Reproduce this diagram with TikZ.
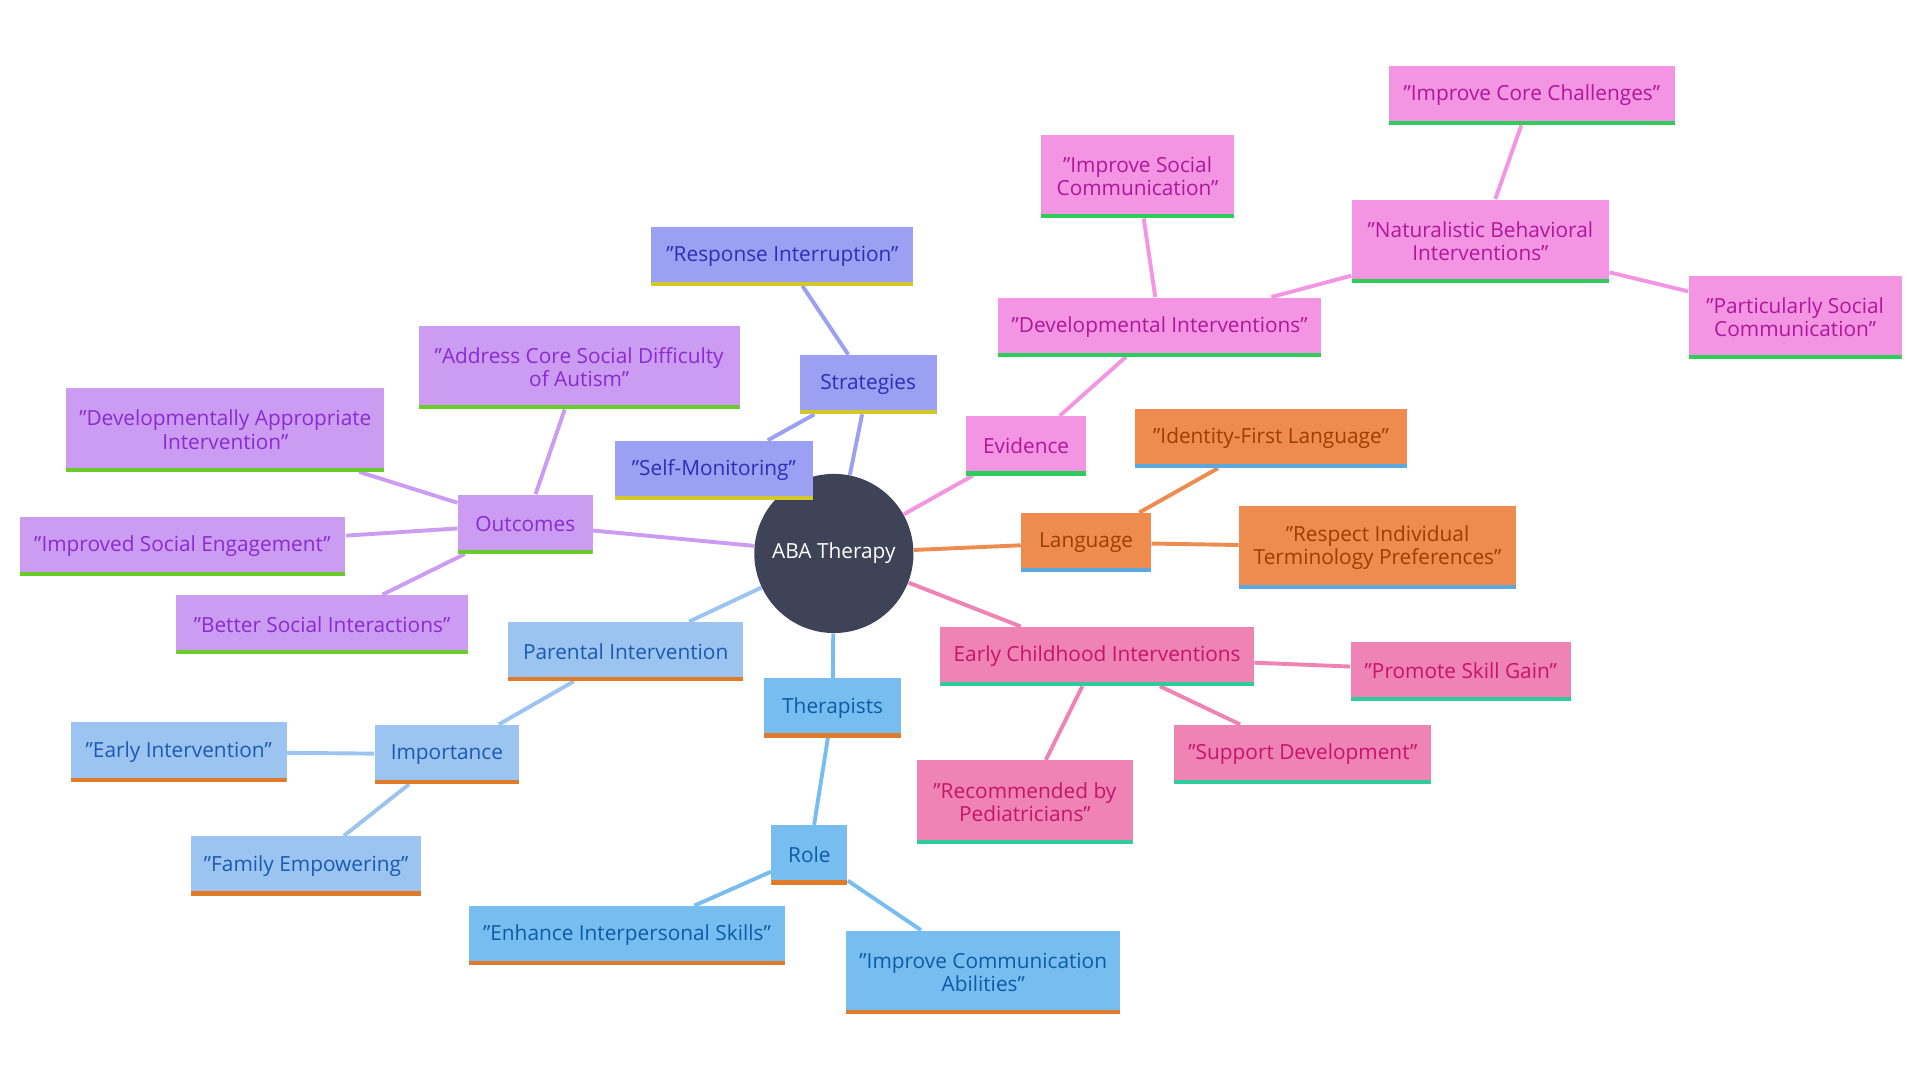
\documentclass[tikz,border=0pt]{standalone}
\usepackage{fontspec}
\setmainfont{Open Sans}
\usetikzlibrary{backgrounds}
\definecolor{cdark}{HTML}{3F4358}
\definecolor{sF}{HTML}{9BA0F2}\definecolor{sT}{HTML}{2A2FB5}\definecolor{sB}{HTML}{D4C72A}
\definecolor{eF}{HTML}{F495E4}\definecolor{eT}{HTML}{B0169A}\definecolor{eB}{HTML}{2ECC5A}
\definecolor{lF}{HTML}{EE8B4F}\definecolor{lT}{HTML}{9A3F00}\definecolor{lB}{HTML}{5AA8E0}
\definecolor{cF}{HTML}{EE83B4}\definecolor{cT}{HTML}{C7146A}\definecolor{cB}{HTML}{2ECC9A}
\definecolor{tF}{HTML}{78BDF0}\definecolor{tT}{HTML}{0C5BA8}\definecolor{tB}{HTML}{E07B2A}
\definecolor{pF}{HTML}{9CC4F0}\definecolor{pT}{HTML}{1A5BB0}
\definecolor{oF}{HTML}{CC9CF2}\definecolor{oT}{HTML}{8A2BD0}\definecolor{oB}{HTML}{6ACC2A}
\tikzset{
 bx/.style n args={3}{rectangle, inner sep=2pt, align=center, fill=#1, text=#2,
   font=\fontsize{8.5}{9.6}\selectfont,
   path picture={\draw[line width=3pt,#3] (path picture bounding box.south west)--(path picture bounding box.south east);}},
 sbx/.style={bx={sF}{sT}{sB}}, ebx/.style={bx={eF}{eT}{eB}}, lbx/.style={bx={lF}{lT}{lB}},
 cbx/.style={bx={cF}{cT}{cB}}, tbx/.style={bx={tF}{tT}{tB}}, pbx/.style={bx={pF}{pT}{tB}},
 obx/.style={bx={oF}{oT}{oB}},
 h1/.style={minimum height=24pt}, h2/.style={minimum height=34pt},
 ln/.style={line width=1.6pt}
}
\begin{document}
\begin{tikzpicture}[x=0.5pt,y=-0.5pt]
\useasboundingbox (0,0) rectangle (1568,882);
\node[circle,fill=cdark,text=white,minimum size=65pt,font=\fontsize{8.5}{10}\selectfont] (c) at (681,452) {ABA Therapy};
% Strategies
\node[sbx,h1,minimum width=56pt] (s) at (709,314) {Strategies};
\node[sbx,h1,minimum width=107pt] (s1) at (639,209) {"Response Interruption"};
\node[sbx,h1,minimum width=81pt] (s2) at (583,384) {"Self-Monitoring"};
% Evidence
\node[ebx,h1,minimum width=49pt] (e) at (838,364) {Evidence};
\node[ebx,h1,minimum width=132pt] (e1) at (947,267) {"Developmental Interventions"};
\node[ebx,h2,minimum width=79pt] (e2) at (929,144) {"Improve Social\\Communication"};
\node[ebx,h2,minimum width=105pt] (e3) at (1209,197) {"Naturalistic Behavioral\\Interventions"};
\node[ebx,h1,minimum width=117pt] (e4) at (1251,78) {"Improve Core Challenges"};
\node[ebx,h2,minimum width=87pt] (e5) at (1466,259) {"Particularly Social\\Communication"};
% Language
\node[lbx,h1,minimum width=53pt] (l) at (887,443) {Language};
\node[lbx,h1,minimum width=111pt] (l1) at (1038,358) {"Identity-First Language"};
\node[lbx,h2,minimum width=113pt] (l2) at (1125,447) {"Respect Individual\\Terminology Preferences"};
% Early childhood
\node[cbx,h1,minimum width=128pt] (k) at (896,536) {Early Childhood Interventions};
\node[cbx,h1,minimum width=90pt] (k1) at (1193,548) {"Promote Skill Gain"};
\node[cbx,h1,minimum width=105pt] (k2) at (1064,616) {"Support Development"};
\node[cbx,h2,minimum width=88pt] (k3) at (837,655) {"Recommended by\\Pediatricians"};
% Therapists
\node[tbx,h1,minimum width=56pt] (t) at (680,578) {Therapists};
\node[tbx,h1,minimum width=31pt] (t1) at (661,698) {Role};
\node[tbx,h1,minimum width=129pt] (t2) at (512,764) {"Enhance Interpersonal Skills"};
\node[tbx,h2,minimum width=112pt] (t3) at (803,794) {"Improve Communication\\Abilities"};
% Parental
\node[pbx,h1,minimum width=96pt] (p) at (511,532) {Parental Intervention};
\node[pbx,h1,minimum width=59pt] (p1) at (365,616) {Importance};
\node[pbx,h1,minimum width=88pt] (p2) at (146,614) {"Early Intervention"};
\node[pbx,h1,minimum width=94pt] (p3) at (250,707) {"Family Empowering"};
% Outcomes
\node[obx,h1,minimum width=55pt] (o) at (429,428) {Outcomes};
\node[obx,h2,minimum width=131pt] (o1) at (473,300) {"Address Core Social Difficulty\\of Autism"};
\node[obx,h2,minimum width=130pt] (o2) at (184,351) {"Developmentally Appropriate\\Intervention"};
\node[obx,h1,minimum width=133pt] (o3) at (149,446) {"Improved Social Engagement"};
\node[obx,h1,minimum width=119pt] (o4) at (263,510) {"Better Social Interactions"};
\begin{scope}[on background layer]
\draw[ln,sF] (c)--(s) (s)--(s1) (s)--(s2);
\draw[ln,eF] (c)--(e) (e)--(e1) (e1)--(e2) (e1)--(e3) (e3)--(e4) (e3)--(e5);
\draw[ln,lF] (c)--(l) (l)--(l1) (l)--(l2);
\draw[ln,cF] (c)--(k) (k)--(k1) (k)--(k2) (k)--(k3);
\draw[ln,tF] (c)--(t) (t)--(t1) (t1)--(t2) (t1)--(t3);
\draw[ln,pF] (c)--(p) (p)--(p1) (p1)--(p2) (p1)--(p3);
\draw[ln,oF] (c)--(o) (o)--(o1) (o)--(o2) (o)--(o3) (o)--(o4);
\end{scope}
\end{tikzpicture}
\end{document}
